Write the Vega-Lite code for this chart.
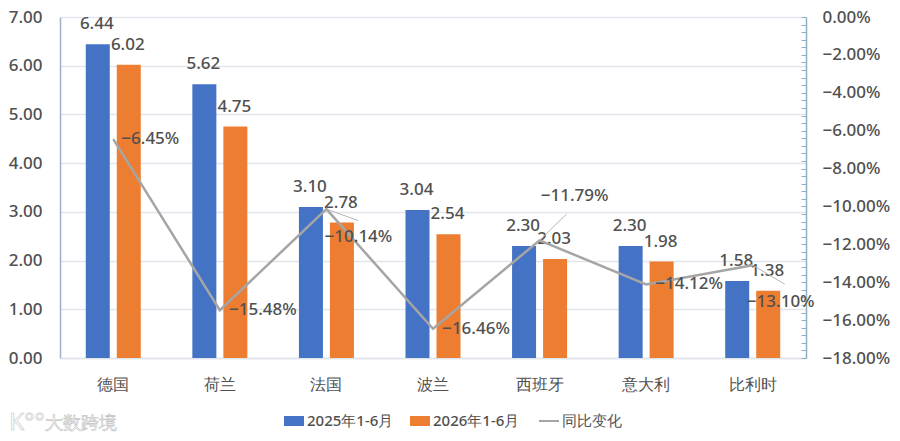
{
  "$schema": "https://vega.github.io/schema/vega-lite/v6.json",
  "width": 746,
  "height": 341,
  "autosize": "none",
  "padding": {"left": 60, "top": 17, "right": 94, "bottom": 83},
  "background": "white",
  "config": {
    "view": {"stroke": null},
    "font": "Noto Sans",
    "text": {"font": "Noto Sans", "fontSize": 17, "fontWeight": 500, "fill": "#505050"}
  },
  "datasets": {
    "bars": [
      {"country": "德国", "series": "2025年1-6月", "value": 6.44},
      {"country": "德国", "series": "2026年1-6月", "value": 6.02},
      {"country": "荷兰", "series": "2025年1-6月", "value": 5.62},
      {"country": "荷兰", "series": "2026年1-6月", "value": 4.75},
      {"country": "法国", "series": "2025年1-6月", "value": 3.10},
      {"country": "法国", "series": "2026年1-6月", "value": 2.78},
      {"country": "波兰", "series": "2025年1-6月", "value": 3.04},
      {"country": "波兰", "series": "2026年1-6月", "value": 2.54},
      {"country": "西班牙", "series": "2025年1-6月", "value": 2.30},
      {"country": "西班牙", "series": "2026年1-6月", "value": 2.03},
      {"country": "意大利", "series": "2025年1-6月", "value": 2.30},
      {"country": "意大利", "series": "2026年1-6月", "value": 1.98},
      {"country": "比利时", "series": "2025年1-6月", "value": 1.58},
      {"country": "比利时", "series": "2026年1-6月", "value": 1.38}
    ],
    "change": [
      {"country": "德国", "series": "同比变化", "change": -0.0645},
      {"country": "荷兰", "series": "同比变化", "change": -0.1548},
      {"country": "法国", "series": "同比变化", "change": -0.1014},
      {"country": "波兰", "series": "同比变化", "change": -0.1646},
      {"country": "西班牙", "series": "同比变化", "change": -0.1179},
      {"country": "意大利", "series": "同比变化", "change": -0.1412},
      {"country": "比利时", "series": "同比变化", "change": -0.1310}
    ],
    "leaders": [
      {"country": "法国", "change": -0.1014, "end": -0.1075},
      {"country": "西班牙", "change": -0.1179, "end": -0.1040},
      {"country": "比利时", "change": -0.1310, "end": -0.1410}
    ]
  },
  "encoding": {
    "x": {
      "field": "country",
      "type": "nominal",
      "sort": ["德国", "荷兰", "法国", "波兰", "西班牙", "意大利", "比利时"],
      "scale": {"paddingInner": 0.484, "paddingOuter": 0.242},
      "axis": {
        "title": null,
        "labelAngle": 0,
        "labelFontSize": 16,
        "labelFontWeight": 500,
        "labelColor": "#505050",
        "labelPadding": 18,
        "ticks": false,
        "domainColor": "#dfe3ea",
        "domainWidth": 1.5
      }
    }
  },
  "layer": [
    {
      "data": {"name": "bars"},
      "layer": [
        {
          "mark": {"type": "bar", "width": 24},
          "encoding": {
            "xOffset": {
              "field": "series",
              "scale": {"paddingInner": 0.226, "paddingOuter": 0}
            },
            "y": {
              "field": "value",
              "type": "quantitative",
              "scale": {"domain": [0, 7]},
              "axis": {
                "title": null,
                "format": ".2f",
                "values": [0, 1, 2, 3, 4, 5, 6, 7],
                "labelFontSize": 17,
                "labelFontWeight": 500,
                "labelColor": "#505050",
                "labelPadding": 18,
                "ticks": false,
                "domainColor": "#9fb0cc",
                "domainWidth": 1.5,
                "gridColor": "#e2e5ec",
                "gridWidth": 1.5
              }
            },
            "color": {
              "field": "series",
              "type": "nominal",
              "scale": {
                "domain": ["2025年1-6月", "2026年1-6月", "同比变化"],
                "range": ["#4472c4", "#ed7d31", "#a5a5a5"]
              },
              "legend": {
                "title": null,
                "orient": "none",
                "legendX": 223,
                "legendY": 393,
                "direction": "horizontal",
                "labelFontSize": 15,
                "labelFontWeight": 500,
                "labelColor": "#505050",
                "symbolSize": 400,
                "symbolOpacity": 1,
                "columnPadding": 15,
                "labelOffset": 2,
                "encode": {
                  "symbols": {
                    "update": {
                      "shape": {"signal": "datum.value == '同比变化' ? 'stroke' : 'M-1,-0.5H1V0.5H-1Z'"},
                      "stroke": {"signal": "datum.value == '同比变化' ? '#a5a5a5' : null"},
                      "strokeWidth": {"value": 2}
                    }
                  }
                }
              }
            }
          }
        },
        {
          "mark": {"type": "text", "dy": -20, "dx": -1},
          "encoding": {
            "xOffset": {
              "field": "series",
              "scale": {"paddingInner": 0.226, "paddingOuter": 0}
            },
            "y": {"field": "value", "type": "quantitative"},
            "text": {"field": "value", "type": "quantitative", "format": ".2f"}
          }
        },
        {
          "data": {"values": [{"label": "大数跨境"}]},
          "mark": {
            "type": "text",
            "fontSize": 18,
            "fontWeight": 400,
            "fill": "#ffffff",
            "stroke": "#c4c4c4",
            "strokeWidth": 0.6,
            "align": "left",
            "dx": -68,
            "dy": 66
          },
          "encoding": {
            "x": {"datum": "德国"},
            "y": {"datum": 0},
            "text": {"field": "label"}
          }
        },
        {
          "data": {"values": [{"label": "K°°"}]},
          "mark": {
            "type": "text",
            "fontSize": 24,
            "fontWeight": 400,
            "fill": "#ffffff",
            "stroke": "#c4c4c4",
            "strokeWidth": 0.6,
            "align": "left",
            "dx": -104,
            "dy": 65
          },
          "encoding": {
            "x": {"datum": "德国"},
            "y": {"datum": 0},
            "text": {"field": "label"}
          }
        }
      ]
    },
    {
      "data": {"name": "change"},
      "layer": [
        {
          "mark": {"type": "line", "stroke": "#a5a5a5", "strokeWidth": 2.5},
          "encoding": {
            "y": {
              "field": "change",
              "type": "quantitative",
              "scale": {"domain": [-0.18, 0]},
              "axis": {
                "title": null,
                "orient": "right",
                "format": ".2%",
                "values": [-0.18, -0.176, -0.172, -0.168, -0.164, -0.16, -0.156, -0.152, -0.148, -0.144, -0.14, -0.136, -0.132, -0.128, -0.124, -0.12, -0.116, -0.112, -0.108, -0.104, -0.1, -0.096, -0.092, -0.088, -0.084, -0.08, -0.076, -0.072, -0.068, -0.064, -0.06, -0.056, -0.052, -0.048, -0.044, -0.04, -0.036, -0.032, -0.028, -0.024, -0.02, -0.016, -0.012, -0.008, -0.004, 0],
                "tickCount": 46,
                "labelExpr": "abs(round(datum.value * 1000) % 20) == 0 ? datum.label : ''",
                "labelFontSize": 17,
                "labelFontWeight": 500,
                "labelColor": "#505050",
                "labelPadding": 21,
                "labelOverlap": false,
                "labelBound": false,
                "tickColor": "#8fb0c4",
                "tickSize": -5,
                "domainColor": "#8fb0c4",
                "domainWidth": 1.5,
                "grid": false
              }
            }
          }
        },
        {
          "transform": [{"filter": "datum.country == '德国'"}],
          "mark": {"type": "text", "dx": 37},
          "encoding": {
            "y": {"field": "change", "type": "quantitative"},
            "text": {"field": "change", "type": "quantitative", "format": ".2%"}
          }
        },
        {
          "transform": [{"filter": "indexof(['荷兰', '波兰', '意大利'], datum.country) >= 0"}],
          "mark": {"type": "text", "dx": 43},
          "encoding": {
            "y": {"field": "change", "type": "quantitative"},
            "text": {"field": "change", "type": "quantitative", "format": ".2%"}
          }
        },
        {
          "transform": [{"filter": "datum.country == '法国'"}],
          "mark": {"type": "text", "dx": 32, "dy": 28},
          "encoding": {
            "y": {"field": "change", "type": "quantitative"},
            "text": {"field": "change", "type": "quantitative", "format": ".2%"}
          }
        },
        {
          "transform": [{"filter": "datum.country == '西班牙'"}],
          "mark": {"type": "text", "dx": 35, "dy": -44},
          "encoding": {
            "y": {"field": "change", "type": "quantitative"},
            "text": {"field": "change", "type": "quantitative", "format": ".2%"}
          }
        },
        {
          "transform": [{"filter": "datum.country == '比利时'"}],
          "mark": {"type": "text", "dx": 28, "dy": 37},
          "encoding": {
            "y": {"field": "change", "type": "quantitative"},
            "text": {"field": "change", "type": "quantitative", "format": ".2%"}
          }
        },
        {
          "data": {"name": "leaders"},
          "transform": [{"filter": "datum.country != '西班牙'"}],
          "mark": {"type": "rule", "stroke": "#b5b5b5", "strokeWidth": 1, "x2Offset": 32},
          "encoding": {
            "y": {"field": "change", "type": "quantitative"},
            "y2": {"field": "end"},
            "x2": {"field": "country"}
          }
        },
        {
          "data": {"name": "leaders"},
          "transform": [{"filter": "datum.country == '西班牙'"}],
          "mark": {"type": "rule", "stroke": "#b5b5b5", "strokeWidth": 1, "x2Offset": 27},
          "encoding": {
            "y": {"field": "change", "type": "quantitative"},
            "y2": {"field": "end"},
            "x2": {"field": "country"}
          }
        }
      ]
    }
  ],
  "resolve": {"scale": {"y": "independent"}}
}
